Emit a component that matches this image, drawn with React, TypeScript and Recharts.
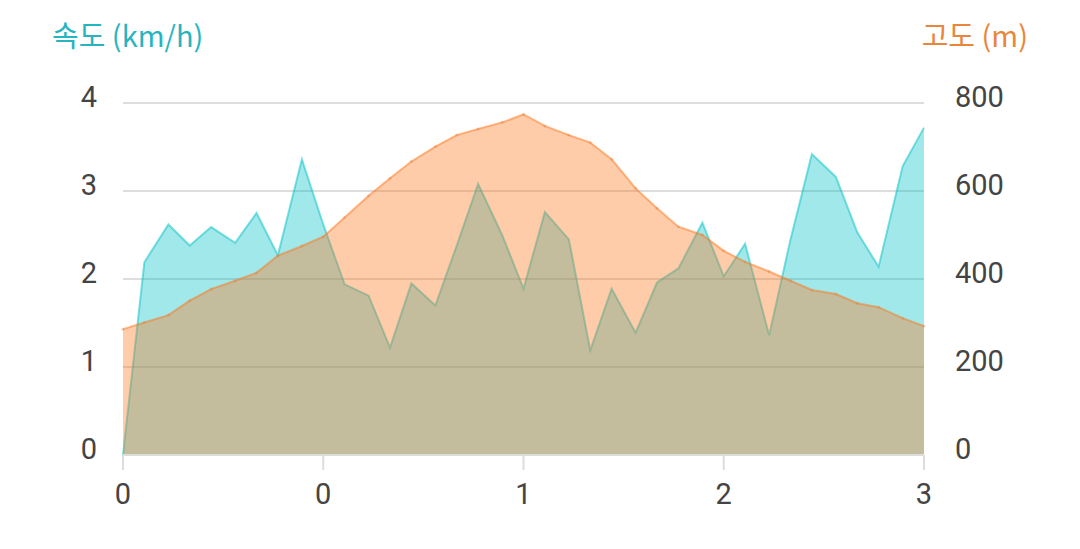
import React from "react";
import {
  ComposedChart,
  Area,
  XAxis,
  YAxis,
  CartesianGrid,
} from "recharts";

const DISTANCE_KM = [
  0, 0.08, 0.17, 0.25, 0.33, 0.42, 0.5, 0.58, 0.67, 0.75, 0.83, 0.92, 1.0,
  1.08, 1.17, 1.25, 1.33, 1.42, 1.5, 1.58, 1.67, 1.75, 1.83, 1.92, 2.0, 2.08,
  2.17, 2.25, 2.33, 2.42, 2.5, 2.58, 2.67, 2.75, 2.83, 2.92, 3.0,
];

const SPEED_KMH = [
  0, 2.19, 2.62, 2.38, 2.59, 2.41, 2.75, 2.27, 3.36, 2.62, 1.94, 1.81, 1.22,
  1.95, 1.7, 2.38, 3.08, 2.5, 1.89, 2.76, 2.45, 1.19, 1.89, 1.39, 1.96, 2.12,
  2.64, 2.03, 2.4, 1.36, 2.45, 3.42, 3.16, 2.53, 2.14, 3.28, 3.72,
];

const ALTITUDE_M = [
  286, 301, 318, 351, 377, 396, 414, 453, 475, 496, 540, 589, 629, 667, 701,
  727, 741, 756, 774, 748, 727, 710, 672, 606, 561, 519, 500, 464, 439, 417,
  396, 375, 366, 345, 336, 311, 293,
];

const X_TICKS = [0, 0.75, 1.5, 2.25, 3];
const X_TICK_LABELS = ["0", "0", "1", "2", "3"];
const SPEED_TICKS = [0, 1, 2, 3, 4];
const ALT_TICKS = [0, 200, 400, 600, 800];

const CYAN = "#00C1C6";
const ORANGE = "#FF7519";
const TICK_COLOR = "#444";
const GRID = "#dddddd";

const data = DISTANCE_KM.map((km, i) => ({
  km,
  speed: SPEED_KMH[i],
  alt: ALTITUDE_M[i],
}));

const tickFont = { fontFamily: "Roboto", fontSize: 29, fill: TICK_COLOR };

function LeftTick({ x, y, payload }: any) {
  return (
    <text x={x} y={y - 6} textAnchor="end" dominantBaseline="central" {...tickFont}>
      {payload.value}
    </text>
  );
}

function RightTick({ x, y, payload }: any) {
  return (
    <text x={x} y={y - 6} textAnchor="start" dominantBaseline="central" {...tickFont}>
      {payload.value}
    </text>
  );
}

function BottomTick({ x, y, payload }: any) {
  const idx = X_TICKS.indexOf(payload.value);
  return (
    <text x={x} y={y + 22} textAnchor="middle" dominantBaseline="central" {...tickFont}>
      {idx >= 0 ? X_TICK_LABELS[idx] : ""}
    </text>
  );
}

const titleStyle: React.CSSProperties = {
  position: "absolute",
  top: 20,
  fontFamily: "'Noto Sans CJK KR', 'Noto Sans', sans-serif",
  fontSize: 29,
  lineHeight: 1,
  whiteSpace: "nowrap",
};

export default function App() {
  return (
    <div
      style={{
        position: "absolute",
        left: 0,
        top: 0,
        width: 1080,
        height: 549,
        background: "#fff",
      }}
    >
      <div style={{ ...titleStyle, left: 52, color: "#26B4BE" }}>속도 (km/h)</div>
      <div style={{ ...titleStyle, right: 52, color: "#E8873C" }}>고도 (m)</div>
      <ComposedChart
        width={1080}
        height={549}
        data={data}
        margin={{ top: 103, right: 0, bottom: 0, left: 0 }}
      >
        <CartesianGrid
          yAxisId="speed"
          vertical={false}
          stroke={GRID}
          strokeWidth={2}
        />
        <XAxis
          dataKey="km"
          type="number"
          domain={[0, 3]}
          ticks={X_TICKS}
          height={94}
          axisLine={{ stroke: GRID, strokeWidth: 2 }}
          tickLine={{ stroke: GRID, strokeWidth: 2 }}
          tickSize={15}
          tickMargin={2}
          tick={<BottomTick />}
        />
        <YAxis
          yAxisId="speed"
          orientation="left"
          domain={[0, 4]}
          ticks={SPEED_TICKS}
          width={123}
          axisLine={false}
          tickLine={false}
          tickSize={0}
          tickMargin={26}
          tick={<LeftTick />}
        />
        <YAxis
          yAxisId="alt"
          orientation="right"
          domain={[0, 800]}
          ticks={ALT_TICKS}
          width={156}
          axisLine={false}
          tickLine={false}
          tickSize={0}
          tickMargin={31}
          tick={<RightTick />}
        />
        <Area
          yAxisId="speed"
          type="linear"
          dataKey="speed"
          stroke={CYAN}
          strokeOpacity={0.5}
          strokeWidth={2}
          fill={CYAN}
          fillOpacity={0.37}
          dot={false}
          activeDot={false}
          isAnimationActive={false}
        />
        <Area
          yAxisId="alt"
          type="linear"
          dataKey="alt"
          stroke={ORANGE}
          strokeOpacity={0.5}
          strokeWidth={2}
          fill={ORANGE}
          fillOpacity={0.37}
          dot={{ r: 1.5, fill: "#d9824a", stroke: "none" }}
          activeDot={false}
          isAnimationActive={false}
        />
      </ComposedChart>
    </div>
  );
}
